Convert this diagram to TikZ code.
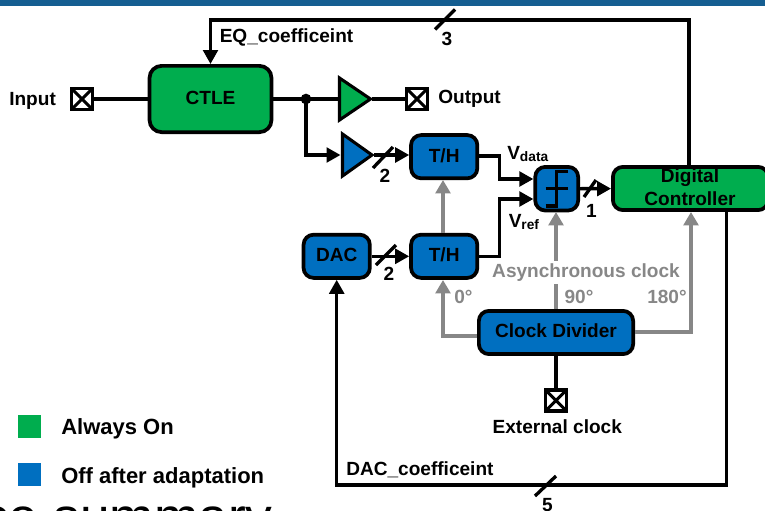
\documentclass[tikz,border=0pt]{standalone}
\usepackage{fontspec}
\setmainfont{Liberation Sans}
\usetikzlibrary{arrows.meta}
\definecolor{barblue}{HTML}{155E91}
\definecolor{grn}{HTML}{00AD4E}
\definecolor{blu}{HTML}{006FC0}
\definecolor{gry}{HTML}{878787}
\tikzset{
 x=0.75pt,y=-0.75pt,
 box/.style={draw=black,line width=2.8pt,rounded corners=7.5pt,inner sep=0pt,font=\bfseries\fontsize{14.3}{17}\selectfont,align=center,text height=11pt,text depth=3pt},
 gbox/.style={box,fill=grn},
 bbox/.style={box,fill=blu},
 thbox/.style={bbox,minimum width=49.7pt,minimum height=32.4pt},
 wire/.style={draw=black,line width=2.5pt},
 awire/.style={wire,-{Triangle[length=10.5pt,width=11pt]}},
 cwire/.style={draw=gry,line width=2.6pt},
 acwire/.style={cwire,-{Triangle[length=10pt,width=11pt]}},
 lbl/.style={inner sep=0pt,font=\bfseries\fontsize{14.3}{17}\selectfont},
 clbl/.style={lbl,text=gry},
 pad/.style={draw=black,line width=2.6pt,fill=white,minimum size=16pt,inner sep=0pt,path picture={\draw[line width=2.2pt] (path picture bounding box.north west)--(path picture bounding box.south east) (path picture bounding box.north east)--(path picture bounding box.south west);}},
 ampshape/.style={draw=black,line width=2.3pt,line join=miter},
 slash/.style={draw=black,line width=2.5pt},
 legend/.style={lbl,anchor=west,font=\bfseries\fontsize{16.5}{19}\selectfont},
}
\begin{document}
\begin{tikzpicture}
\useasboundingbox (0,0) rectangle (765,511);
\fill[barblue] (0,0) rectangle (765,6);
% nodes
\node[pad] (pin) at (82,99) {};
\node[gbox,rounded corners=9pt,minimum width=91.4pt,minimum height=49.7pt] (ctle) at (210.5,99) {CTLE};
\node[pad] (pout) at (417,99) {};
\node[pad] (pext) at (556,400.5) {};
\node[thbox] (th1) at (444.2,156.7) {T/H};
\node[thbox] (th2) at (444.2,256.3) {T/H};
\node[thbox] (dac) at (336.7,256.3) {DAC};
\node[bbox,minimum width=32.2pt,minimum height=32.7pt] (cmp) at (556.7,188.7) {};
\node[gbox,minimum width=116.4pt,minimum height=32.4pt] (dig) at (690.5,188.5) {};
\node[lbl,align=center,font=\bfseries\fontsize{14.3}{17}\selectfont] (digt) at (690,187.5) {Digital\\Controller};
\node[bbox,minimum width=115.7pt,minimum height=32.4pt] (clk) at (556,332.5) {Clock Divider};
% amplifiers
\path[ampshape,fill=grn] (339.5,78)--(370.5,99)--(339.5,120)--cycle;
\coordinate (a1in) at (339.5,99);
\coordinate (a1out) at (372,99);
\path[ampshape,fill=blu] (342.5,134)--(372,155)--(342.5,176)--cycle;
\coordinate (a2in) at (340.5,155);
\coordinate (a2out) at (374,155);
% comparator symbol
\draw[line width=2.4pt,line join=miter] (545.7,206)--(556.7,206)--(556.7,171.7)--(567.7,171.7);
\draw[line width=2.4pt] (545.7,188.3)--(567.7,188.3);
% black wires
\draw[wire] (pin)--(ctle);
\draw[wire] (ctle)--(a1in);
\draw[wire] (a1out)--(pout);
\coordinate (jn) at (306,99);
\fill (jn) circle (4pt);
\draw[awire] (jn)--(306,155)--(a2in);
\draw[awire] (a2out)--(th1.west|-a2out);
\draw[awire] (dac)--(th2);
\draw[awire] (th1.east|-0,156)--(499.5,156)--(499.5,179)--(cmp.west|-0,179);
\draw[awire] (th2.east)--(499.5,256.3)--(499.5,199)--(cmp.west|-0,199);
\draw[awire] (cmp)--(dig);
\draw[wire] (pext)--(clk);
\draw[awire] (dig.north-|689,0)--(689,20)--(210.5,20)--(ctle);
\draw[awire] (dig.south-|726.7,0)--(726.7,485)--(336.7,485)--(dac);
% grey wires
\draw[acwire] (th2.north-|443,0)--(443,180);
\draw[acwire] (clk.west|-0,336)--(443,336)--(443,280);
\draw[cwire] (clk.north)--(556,284);
\draw[acwire] (556,260.5)--(556,212);
\draw[acwire] (clk.east|-0,332)--(691,332)--(691,212);
% bus slashes
\draw[slash] (435,29.5)--(455,9.5);
\draw[slash] (373,168)--(393,147);
\draw[slash] (376,265)--(396,245);
\draw[slash] (584,197)--(596,180);
\draw[slash] (535,496)--(556,476);
% labels
\node[lbl,anchor=west] (tin) at (9,100.5) {Input};
\node[lbl,anchor=west] (tout) at (438,99) {Output};
\node[lbl,anchor=west] (teq) at (219.5,37.5) {EQ\_coefficeint};
\node[lbl] (t3) at (447,39) {3};
\node[lbl] (t2a) at (385,176) {2};
\node[lbl] (t2b) at (389,274) {2};
\node[lbl] (t1) at (591.5,211) {1};
\node[lbl] (t5) at (547.5,505) {5};
\node[lbl,anchor=west] (tvd) at (507,154) {V\raisebox{-1.5pt}{\fontsize{10.3}{10}\selectfont data}};
\node[lbl,anchor=west] (tvr) at (508.5,222) {V\raisebox{-1.5pt}{\fontsize{10.3}{10}\selectfont ref}};
\node[clbl] (tas) at (586,272.7) {Asynchronous clock};
\node[clbl] (t0) at (463.5,297) {0°};
\node[clbl] (t90) at (579,297) {90°};
\node[clbl] (t180) at (667,297) {180°};
\node[lbl] (tex) at (557.3,426.7) {External clock};
\node[lbl,anchor=west] (tdc) at (346,470) {DAC\_coefficeint};
\fill[grn] (18,415) rectangle (41,438);
\fill[blu] (18,463) rectangle (41,486);
\node[legend] (tal) at (61,429) {Always On};
\node[legend] (tof) at (61,478) {Off after adaptation};
\node[inner sep=0pt,anchor=base west,font=\fontsize{40}{42}\selectfont] (tsum) at (-18,535) {ce summary};
\end{tikzpicture}
\end{document}
